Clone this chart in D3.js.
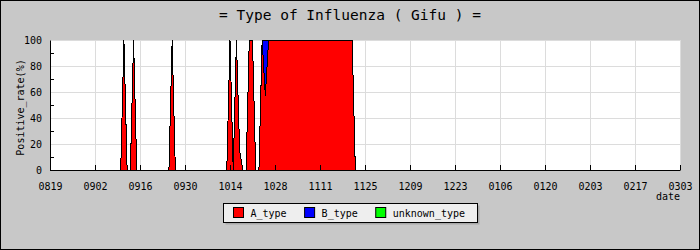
<!DOCTYPE html>
<html>
<head>
<meta charset="utf-8">
<script src="https://cdn.jsdelivr.net/npm/d3@7"></script>
<style>
body { margin: 0; }
svg { display: block; font-family: "DejaVu Sans Mono", monospace; }
</style>
</head>
<body>
<script>
const WIDTH = 700
const HEIGHT = 250

// Data
const startDate = "2009-08-19"
const tickLabels = ["0819", "0902", "0916", "0930", "1014", "1028", "1111", "1125",
    "1209", "1223", "0106", "0120", "0203", "0217", "0303"]
const tickStepDays = 14
const yTicks = [0, 20, 40, 60, 80, 100]
const yMinorTicks = [10, 30, 50, 70, 90]
const seriesNames = ["A_type", "B_type", "unknown_type"]
const seriesColors = ["#ff0000", "#0000ff", "#00ff00"]

// daily positive rate (%), one value per day from startDate
const aType = [
    0, 0, 0, 0, 0, 0, 0, 0, 0, 0, 0, 0, 0, 0, 0, 0, 0, 0, 0, 0,
    0, 0, 0, 100, 0, 0, 100, 0, 0, 0, 0, 0, 0, 0, 0, 0, 0, 0, 100, 0,
    0, 0, 0, 0, 0, 0, 0, 0, 0, 0, 0, 0, 0, 0, 0, 0, 100, 0, 100, 15,
    0, 0, 100, 100, 0, 0, 100, 57, 100, 100, 100, 100, 100, 100, 100, 100, 100, 100, 100, 100,
    100, 100, 100, 100, 100, 100, 100, 100, 100, 100, 100, 100, 100, 100, 100, 0
]
const bType = [
    0, 0, 0, 0, 0, 0, 0, 0, 0, 0, 0, 0, 0, 0, 0, 0, 0, 0, 0, 0,
    0, 0, 0, 0, 0, 0, 0, 0, 0, 0, 0, 0, 0, 0, 0, 0, 0, 0, 0, 0,
    0, 0, 0, 0, 0, 0, 0, 0, 0, 0, 0, 0, 0, 0, 0, 0, 0, 0, 0, 0,
    0, 0, 0, 0, 0, 0, 0, 43, 0, 0, 0, 0, 0, 0, 0, 0, 0, 0, 0, 0,
    0, 0, 0, 0, 0, 0, 0, 0, 0, 0, 0, 0, 0, 0, 0, 0
]
const unknownType = aType.map(() => 0)

const parseDate = d3.timeParse("%Y-%m-%d")
const start = parseDate(startDate)
const rows = aType.map((v, i) => ({
    date: d3.timeDay.offset(start, i),
    A_type: v,
    B_type: bType[i],
    unknown_type: unknownType[i]
}))
const tickDates = tickLabels.map((t, i) => d3.timeDay.offset(start, i * tickStepDays))

// Plot area
const plotLeft = 50, plotRight = 680, plotTop = 40, plotBottom = 170

const x = d3.scaleTime()
    .domain([tickDates[0], tickDates[tickDates.length - 1]])
    .range([plotLeft, plotRight])
const y = d3.scaleLinear().domain([0, 100]).range([plotBottom, plotTop])

const svg = d3.select("body").append("svg")
    .attr("width", WIDTH)
    .attr("height", HEIGHT)

svg.append("rect")
    .attr("x", 0.5).attr("y", 0.5)
    .attr("width", WIDTH - 1).attr("height", HEIGHT - 1)
    .attr("fill", "#c8c8c8")
    .attr("stroke", "#000")

svg.append("rect")
    .attr("x", plotLeft).attr("y", plotTop)
    .attr("width", plotRight - plotLeft).attr("height", plotBottom - plotTop)
    .attr("fill", "#fff")

// Grid
const grid = svg.append("g").attr("stroke", "#dcdcdc").attr("shape-rendering", "crispEdges")
grid.selectAll(".h").data(yTicks).enter().append("line")
    .attr("x1", plotLeft).attr("x2", plotRight)
    .attr("y1", d => y(d)).attr("y2", d => y(d))
grid.selectAll(".v").data(tickDates).enter().append("line")
    .attr("x1", d => x(d)).attr("x2", d => x(d))
    .attr("y1", plotTop).attr("y2", plotBottom)

// Stacked areas, filled then outlined on top
const stacked = d3.stack().keys(seriesNames)(rows)
const area = d3.area()
    .x(d => x(d.data.date))
    .y0(d => y(d[0]))
    .y1(d => y(d[1]))
const topLine = d3.line()
    .x(d => x(d.data.date))
    .y(d => y(d[1]))

const layers = svg.append("g").attr("shape-rendering", "crispEdges")
layers.selectAll(".area")
    .data(stacked)
    .enter()
    .append("path")
    .attr("d", area)
    .attr("fill", (d, i) => seriesColors[i])
layers.selectAll(".line")
    .data(stacked)
    .enter()
    .append("path")
    .attr("d", topLine)
    .attr("fill", "none")
    .attr("stroke", "#000")
    .attr("stroke-width", 1)

// Axes
const xAxis = svg.append("g")
    .attr("transform", `translate(0,${plotBottom})`)
    .call(d3.axisBottom(x)
        .tickValues(tickDates)
        .tickFormat((d, i) => tickLabels[i])
        .tickSizeInner(-5)
        .tickSizeOuter(0)
        .tickPadding(13))
xAxis.selectAll("text").attr("font-size", 10).attr("font-family", "DejaVu Sans Mono").attr("fill", "#000")

const yAxis = svg.append("g")
    .attr("transform", `translate(${plotLeft},0)`)
    .call(d3.axisLeft(y)
        .tickValues(yTicks)
        .tickSize(0)
        .tickPadding(8))
yAxis.selectAll("text").attr("font-size", 10).attr("font-family", "DejaVu Sans Mono").attr("fill", "#000")

svg.append("g")
    .attr("transform", `translate(${plotLeft},0)`)
    .call(d3.axisLeft(y)
        .tickValues(yMinorTicks)
        .tickSizeInner(-4)
        .tickSizeOuter(0)
        .tickFormat(""))
    .select(".domain").remove()

// Titles
svg.append("text")
    .attr("x", WIDTH / 2)
    .attr("y", 20)
    .attr("text-anchor", "middle")
    .attr("font-size", 14.5)
    .text("= Type of Influenza ( Gifu ) =")

svg.append("text")
    .attr("x", plotRight)
    .attr("y", 200)
    .attr("text-anchor", "end")
    .attr("font-size", 10)
    .text("date")

svg.append("text")
    .attr("transform", "translate(24,107.5) rotate(-90)")
    .attr("text-anchor", "middle")
    .attr("font-size", 10)
    .text("Positive_rate(%)")

// Legend
const legend = svg.append("g")
legend.append("rect")
    .attr("x", 225.5).attr("y", 205.5)
    .attr("width", 254).attr("height", 19)
    .attr("fill", "#a8a8a8")
legend.append("rect")
    .attr("x", 223.5).attr("y", 203.5)
    .attr("width", 254).attr("height", 19)
    .attr("fill", "#eeeeee")
    .attr("stroke", "#000")

let lx = 233.5
seriesNames.forEach((name, i) => {
    legend.append("rect")
        .attr("x", lx).attr("y", 207.5)
        .attr("width", 10).attr("height", 10)
        .attr("fill", seriesColors[i])
        .attr("stroke", "#000")
    legend.append("text")
        .attr("x", lx + 17)
        .attr("y", 217)
        .attr("font-size", 10)
        .text(name)
    lx += 17 + name.length * 6.02 + 18
})
</script>
</body>
</html>
